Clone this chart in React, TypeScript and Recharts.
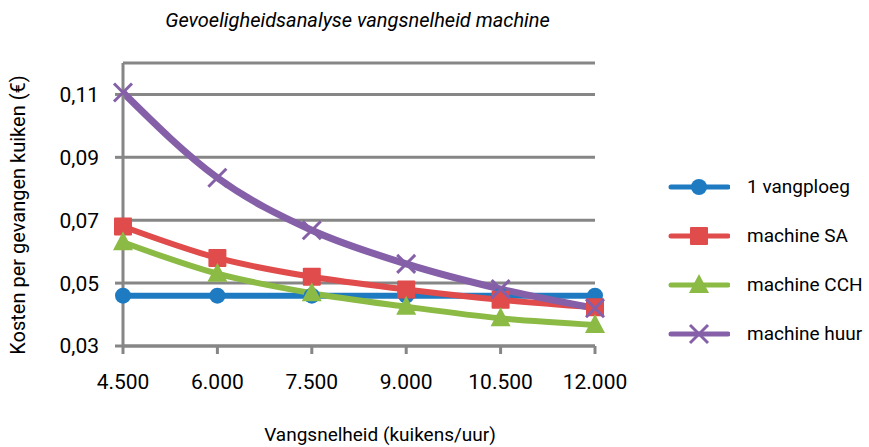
import React from 'react'
import { CartesianGrid, Legend, Line, LineChart, XAxis, YAxis } from 'recharts'

const snelheden = ['4.500', '6.000', '7.500', '9.000', '10.500', '12.000']
const vangploeg = [0.046, 0.046, 0.046, 0.046, 0.046, 0.046]
const machineSA = [0.068, 0.058, 0.052, 0.048, 0.0447, 0.0423]
const machineCCH = [0.063, 0.053, 0.0468, 0.0425, 0.0388, 0.0367]
const machineHuur = [0.1106, 0.0835, 0.0668, 0.0561, 0.0481, 0.042]
const yTicks = [0.03, 0.05, 0.07, 0.09, 0.11]

const series = [
  { key: 'vangploeg', name: '1 vangploeg', color: '#1f7bc1', shape: 'circle', width: 6 },
  { key: 'sa', name: 'machine SA', color: '#e04b4b', shape: 'square', width: 6 },
  { key: 'cch', name: 'machine CCH', color: '#8bba45', shape: 'triangle', width: 6 },
  { key: 'huur', name: 'machine huur', color: '#8560a8', shape: 'cross', width: 7 },
]

const data = snelheden.map((s, i) => ({
  snelheid: s,
  vangploeg: vangploeg[i],
  sa: machineSA[i],
  cch: machineCCH[i],
  huur: machineHuur[i],
}))

const font = 'Roboto, "Liberation Sans", sans-serif'

const Marker = ({ shape, color, cx, cy }: { shape: string; color: string; cx: number; cy: number }) => {
  if (shape === 'circle') return <circle cx={cx} cy={cy} r={8} fill={color} />
  if (shape === 'square') return <rect x={cx - 9} y={cy - 9} width={18} height={18} rx={1} fill={color} />
  if (shape === 'triangle')
    return <polygon points={`${cx},${cy - 11} ${cx + 10},${cy + 8} ${cx - 10},${cy + 8}`} fill={color} />
  return (
    <g stroke={color} strokeWidth={3}>
      <line x1={cx - 9} y1={cy - 9} x2={cx + 9} y2={cy + 9} />
      <line x1={cx - 9} y1={cy + 9} x2={cx + 9} y2={cy - 9} />
    </g>
  )
}

const LegendContent = () => (
  <div style={{ fontFamily: font, fontSize: 19, color: '#000', whiteSpace: 'nowrap' }}>
    {series.map((s) => (
      <div key={s.key} style={{ display: 'flex', alignItems: 'center', height: 49 }}>
        <svg width={62} height={24}>
          <line x1={3} y1={12} x2={60} y2={12} stroke={s.color} strokeWidth={5} strokeLinecap="round" />
          <Marker shape={s.shape} color={s.color} cx={31} cy={12} />
        </svg>
        <span style={{ marginLeft: 17 }}>{s.name}</span>
      </div>
    ))}
  </div>
)

const YLabel = () => (
  <text
    x={18}
    y={215}
    transform="rotate(-90 18 215)"
    textAnchor="middle"
    dominantBaseline="central"
    fill="#000"
    fontSize={20}
    fontFamily={font}
  >
    Kosten per gevangen kuiken (€)
  </text>
)

const App = () => {
  return (
    <div style={{ position: 'absolute', left: 0, top: 0, width: 869, height: 447, background: '#fff' }}>
      <div
        style={{
          position: 'absolute',
          top: 8,
          left: 0,
          width: 715,
          textAlign: 'center',
          fontFamily: font,
          fontStyle: 'italic',
          fontSize: 20,
        }}
      >
        Gevoeligheidsanalyse vangsnelheid machine
      </div>
      <LineChart width={869} height={447} data={data} margin={{ top: 63, right: 74, bottom: 71, left: 0 }}>
        <CartesianGrid vertical={false} stroke="#868686" strokeWidth={3} />
        <XAxis
          dataKey="snelheid"
          stroke="#868686"
          strokeWidth={3}
          tickSize={8}
          tickMargin={20}
          tick={{ fill: '#000', fontSize: 21, fontFamily: font }}
          label={{ value: 'Vangsnelheid (kuikens/uur)', position: 'bottom', offset: 52, dx: 21, fill: '#000', fontSize: 19, fontFamily: font }}
        />
        <YAxis
          width={123}
          domain={[0.03, 0.12]}
          ticks={yTicks}
          allowDataOverflow
          stroke="#868686"
          strokeWidth={3}
          tickSize={8}
          tickMargin={16}
          tickFormatter={(v: number) => v.toFixed(2).replace('.', ',')}
          tick={{ fill: '#000', fontSize: 21, fontFamily: font }}
          label={<YLabel />}
        />
        <Legend
          layout="vertical"
          align="right"
          verticalAlign="top"
          content={<LegendContent />}
          wrapperStyle={{ width: 200, top: 162, left: 668 }}
        />
        {series.map((s) => (
          <Line
            key={s.key}
            dataKey={s.key}
            name={s.name}
            type="monotone"
            stroke={s.color}
            strokeWidth={s.width}
            isAnimationActive={false}
            dot={(p: any) => <Marker key={p.index} shape={s.shape} color={s.color} cx={p.cx} cy={p.cy} />}
            activeDot={false}
          />
        ))}
      </LineChart>
    </div>
  )
}

export default App
